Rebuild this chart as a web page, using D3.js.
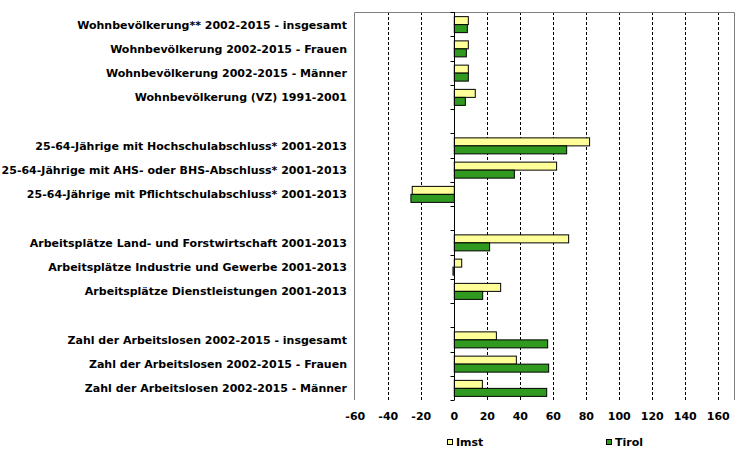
<!DOCTYPE html>
<html>
<head>
<meta charset="utf-8">
<script src="https://cdn.jsdelivr.net/npm/d3@7/dist/d3.min.js"></script>
<style>
  body { margin: 0; background: #fff; }
  svg { display: block; }
  text { font-family: "DejaVu Sans", Verdana, sans-serif; font-weight: bold; fill: #000; }
</style>
</head>
<body>
<svg id="chart" width="755" height="458"></svg>
<script>
const categories = [
  "Wohnbevölkerung** 2002-2015 - insgesamt",
  "Wohnbevölkerung 2002-2015 - Frauen",
  "Wohnbevölkerung 2002-2015 - Männer",
  "Wohnbevölkerung (VZ) 1991-2001",
  "",
  "25-64-Jährige mit Hochschulabschluss* 2001-2013",
  "25-64-Jährige mit AHS- oder BHS-Abschluss* 2001-2013",
  "25-64-Jährige mit Pflichtschulabschluss* 2001-2013",
  "",
  "Arbeitsplätze Land- und Forstwirtschaft 2001-2013",
  "Arbeitsplätze Industrie und Gewerbe 2001-2013",
  "Arbeitsplätze Dienstleistungen 2001-2013",
  "",
  "Zahl der Arbeitslosen 2002-2015 - insgesamt",
  "Zahl der Arbeitslosen 2002-2015 - Frauen",
  "Zahl der Arbeitslosen 2002-2015 - Männer"
];
const imst  = [8.5, 8.5, 8.5, 12.7, null, 82.0, 62.0, -25.5, null, 69.3, 4.5, 28.1, null, 25.5, 37.6, 17.0];
const tirol = [7.9, 7.3, 8.5, 6.7, null, 68.1, 36.4, -26.3, null, 21.4, -0.8, 17.2, null, 56.6, 57.2, 56.0];
const seriesNames = ["Imst", "Tirol"];
const xTicks = [-60, -40, -20, 0, 20, 40, 60, 80, 100, 120, 140, 160];
const xDomain = [-60, 170];

const colors = ["#FFFF99", "#2F9A1F"];
const svg = d3.select("#chart");
const pLeft = 355.3, pRight = 734.8, pTop = 12, pBottom = 400;

const x = d3.scaleLinear().domain(xDomain).range([pLeft, pRight]);
const y = d3.scaleBand().domain(d3.range(categories.length)).range([pTop, pBottom]).padding(0);
const barH = 8;

// gridlines (dashed)
svg.append("g").selectAll("line")
  .data(xTicks.filter(t => t !== 0 && t !== xDomain[0]))
  .join("line")
  .attr("x1", d => Math.round(x(d)) + 0.5).attr("x2", d => Math.round(x(d)) + 0.5)
  .attr("y1", pTop).attr("y2", pBottom)
  .attr("stroke", "#000").attr("stroke-width", 1).attr("stroke-dasharray", "3,2");

// plot border (top, left, right)
const bl = Math.round(pLeft) - 0.5, br = Math.round(pRight) - 0.5;
svg.append("path")
  .attr("d", `M${bl},${pBottom}V${pTop + 0.5}H${br}V${pBottom}`)
  .attr("fill", "none").attr("stroke", "#808080").attr("stroke-width", 1);

// bars
const series = [imst, tirol];
series.forEach((vals, si) => {
  svg.append("g").selectAll("rect")
    .data(vals.map((v, i) => ({ v, i })).filter(d => d.v !== null))
    .join("rect")
    .attr("x", d => x(Math.min(0, d.v)))
    .attr("width", d => Math.max(1, Math.abs(x(d.v) - x(0))))
    .attr("y", d => y(d.i) + y.bandwidth() / 2 - barH + 0.5 + si * barH)
    .attr("height", barH)
    .attr("fill", colors[si])
    .attr("stroke", "#000").attr("stroke-width", 1);
});

// zero axis with ticks
const zx = Math.round(x(0)) + 0.5;
svg.append("line").attr("x1", zx).attr("x2", zx).attr("y1", pTop).attr("y2", pBottom)
  .attr("stroke", "#000").attr("stroke-width", 1);
svg.append("g").selectAll("line")
  .data(d3.range(categories.length + 1))
  .join("line")
  .attr("x1", zx - 4).attr("x2", zx)
  .attr("y1", d => Math.round(pTop + d * y.step()) + 0.5)
  .attr("y2", d => Math.round(pTop + d * y.step()) + 0.5)
  .attr("stroke", "#000");

// category labels
svg.append("g").selectAll("text")
  .data(categories.map((c, i) => ({ c, i })).filter(d => d.c !== ""))
  .join("text")
  .attr("x", 347)
  .attr("y", d => y(d.i) + y.bandwidth() / 2 + 4.5)
  .attr("text-anchor", "end")
  .attr("font-size", "11px")
  .text(d => d.c);

// x tick labels
svg.append("g").selectAll("text")
  .data(xTicks)
  .join("text")
  .attr("x", d => x(d))
  .attr("y", 420)
  .attr("text-anchor", "middle")
  .attr("font-size", "11px")
  .text(d => d);

// legend
const legendX = [447, 606];
seriesNames.forEach((name, i) => {
  svg.append("rect").attr("x", legendX[i] + 0.5).attr("y", 439.5).attr("width", 5).attr("height", 5)
    .attr("fill", colors[i]).attr("stroke", "#000").attr("stroke-width", 1);
  svg.append("text").attr("x", legendX[i] + 9).attr("y", 446)
    .attr("font-size", "11px").text(name);
});
</script>
</body>
</html>
